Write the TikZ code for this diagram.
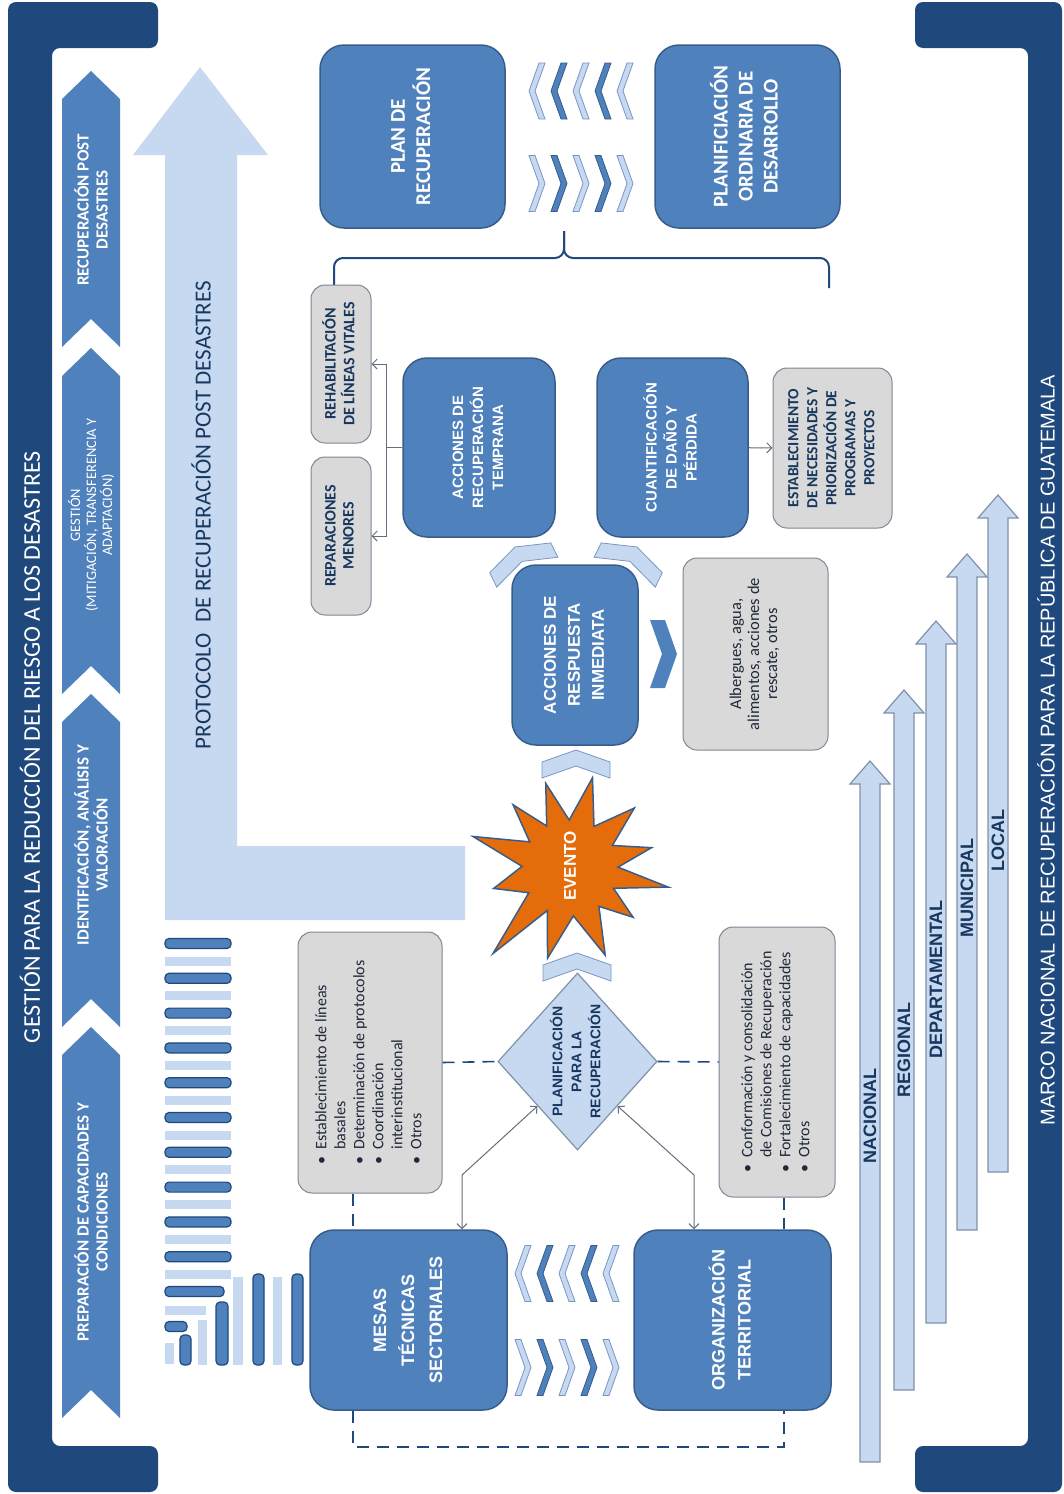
\documentclass[tikz,border=0pt]{standalone}
\usepackage{fontspec}
\setmainfont{Carlito}
\newfontfamily\arialfont{Liberation Sans}
\usepackage{graphicx}
\usetikzlibrary{shapes.geometric, arrows.meta}

\definecolor{navy}{RGB}{31,73,125}
\definecolor{boxblue}{RGB}{79,129,189}
\definecolor{boxedge}{RGB}{56,93,138}
\definecolor{lightblue}{RGB}{198,217,241}
\definecolor{chevedge}{RGB}{120,150,195}
\definecolor{boxgray}{RGB}{217,217,217}
\definecolor{grayedge}{RGB}{125,135,150}
\definecolor{textnavy}{RGB}{23,55,94}
\definecolor{textdark}{RGB}{32,40,58}
\definecolor{evorange}{RGB}{228,108,10}
\definecolor{linegray}{RGB}{100,110,125}
\definecolor{leveledge}{RGB}{128,145,170}

\newcommand{\vtext}[1]{\rotatebox{90}{\begin{tabular}{@{}c@{}}#1\end{tabular}}}
\newcommand{\vlist}[1]{\rotatebox{90}{\begin{tabular}{@{}l@{\hspace{7pt}}l@{}}#1\end{tabular}}}

\tikzset{
  bluebox/.style={draw=boxedge, fill=boxblue, line width=1.5pt, rounded corners=24pt, inner sep=0pt, text=white},
  graybox/.style={draw=grayedge, fill=boxgray, line width=1pt, rounded corners=14pt, inner sep=0pt, text=textnavy},
  conn/.style={draw=linegray, line width=1pt, -{Straight Barb[length=5pt,width=10pt]}},
  twoway/.style={draw=linegray, line width=1pt, {Straight Barb[length=5pt,width=10pt]}-{Straight Barb[length=5pt,width=10pt]}},
  dashlink/.style={draw=navy, line width=1.6pt, dash pattern=on 12pt off 8pt},
  chevlight/.style={fill=lightblue, draw=chevedge, line width=0.8pt},
  chevdark/.style={fill=boxblue, draw=boxedge, line width=0.8pt},
  stripedark/.style={fill=boxblue, draw=navy, line width=1.2pt, rounded corners=4pt},
  levelarrow/.style={fill=lightblue, draw=leveledge, line width=1.2pt},
  chevtext/.style={rotate=90, align=center, text=white, font=\bfseries\fontsize{17}{19}\selectfont},
  leveltext/.style={rotate=90, text=textnavy, font=\arialfont\bfseries\fontsize{18}{20}\selectfont},
  lchev/.pic={\path[pic actions] (0,0) -- (10,-28) -- (16,-28) -- (6,0) -- (16,28) -- (10,28) -- cycle;},
  rchev/.pic={\path[pic actions] (0,0) -- (-10,-28) -- (-16,-28) -- (-6,0) -- (-16,28) -- (-10,28) -- cycle;},
  wchev/.pic={\path[pic actions] (-34,12) -- (0,0) -- (34,12) -- (34,28) -- (0,16) -- (-34,28) -- cycle;},
}

\begin{document}
\begin{tikzpicture}[x=1pt, y=-1pt]
\useasboundingbox (0,0) rectangle (1064,1494);

% frames left and right
\fill[navy, rounded corners=8pt] (8,2) -- (158,2) -- (158,48) -- (52,48) -- (52,1446) -- (158,1446) -- (158,1492) -- (8,1492) -- cycle;
\fill[navy, rounded corners=8pt] (1062,2) -- (915,2) -- (915,48) -- (1028,48) -- (1028,1446) -- (915,1446) -- (915,1492) -- (1062,1492) -- cycle;
\node[rotate=90, text=white, font=\fontsize{24}{28}\selectfont] (gestitle) at (30,747) {GESTIÓN PARA LA REDUCCIÓN DEL RIESGO A LOS DESASTRES};
\node[rotate=90, text=white, font=\arialfont\fontsize{20}{24}\selectfont] (marcotitle) at (1046,750) {MARCO NACIONAL DE RECUPERACIÓN PARA LA REPÚBLICA DE GUATEMALA};

% phases
\foreach \yp/\yb in {71/347, 348/694, 694/1027, 1027/1418}
  \fill[boxblue] (62,\yb) -- (62,\yp+28) -- (91,\yp) -- (120,\yp+28) -- (120,\yb) -- (91,\yb-28) -- cycle;
\node[chevtext] (recup) at (91,210) {RECUPERACIÓN POST\\DESASTRES};
\node[chevtext, font=\fontsize{14.5}{16}\selectfont] (gestion) at (91,515) {GESTIÓN\\(MITIGACIÓN, TRANSFERENCIA Y\\ADAPTACIÓN)};
\node[chevtext] (ident) at (91,845) {IDENTIFICACIÓN, ANÁLISIS Y\\VALORACIÓN};
\node[chevtext] (prep) at (91,1222) {PREPARACIÓN DE CAPACIDADES Y\\CONDICIONES};

% protocol arrow
\fill[lightblue] (165,920) -- (165,155) -- (133,155) -- (200,67) -- (268,155) -- (237,155) -- (237,846) -- (465,846) -- (465,920) -- cycle;
\node[rotate=90, text=textnavy, font=\fontsize{23}{26}\selectfont] (protocolo) at (201,515) {PROTOCOLO \ DE RECUPERACIÓN POST DESASTRES};

% stripes
\foreach \k in {0,...,9} {
  \fill[lightblue] (165,956.5+34.8*\k) rectangle (231,965.5+34.8*\k);
  \draw[stripedark] (165,938.5+34.8*\k) rectangle (231,948.5+34.8*\k);
}
\draw[stripedark] (165,1286.5) rectangle (224,1296.5);
\draw[stripedark] (165,1321.5) rectangle (187,1331.5);
\fill[lightblue] (165,1305.5) rectangle (206,1314.5);
\fill[lightblue] (165,1343) rectangle (174,1364);
\foreach \xa/\xb/\yt in {198/207/1320, 233/243/1277, 273/282/1277}
  \fill[lightblue] (\xa,\yt) rectangle (\xb,1365);
\foreach \xa/\xb/\yt in {180/191/1335, 216/228/1302, 253/264/1274, 292/303/1274}
  \draw[stripedark] (\xa,\yt) rectangle (\xb,1365);

% plans
\node[bluebox, minimum width=185pt, minimum height=183pt, font=\bfseries\fontsize{21}{25}\selectfont] (plan) at (412.5,136.5) {\vtext{PLAN DE\\RECUPERACIÓN}};
\node[bluebox, minimum width=185pt, minimum height=183pt, font=\bfseries\fontsize{21}{25}\selectfont] (planord) at (747.5,136.5) {\vtext{PLANIFICIACIÓN\\ORDINARIA DE\\DESARROLLO}};
\foreach \xx/\st in {529/chevlight, 551/chevdark, 573/chevlight, 595/chevdark, 617/chevlight} {
  \pic[\st] at (\xx,91) {lchev};
  \pic[\st] at (\xx+16,183.5) {rchev};
}
\draw[navy, line width=2pt, rounded corners=9pt] (334,287) -- (334,258) -- (564,258) -- (564,231);
\draw[navy, line width=2pt, rounded corners=9pt] (564,231) -- (564,258) -- (829,258) -- (829,288);

% early recovery
\node[graybox, minimum width=60pt, minimum height=158pt, font=\bfseries\fontsize{16}{18}\selectfont] (rehab) at (341,364) {\vtext{REHABILITACIÓN\\DE LÍNEAS VITALES}};
\node[graybox, minimum width=60pt, minimum height=158pt, font=\bfseries\fontsize{16}{18}\selectfont] (repar) at (341,536) {\vtext{REPARACIONES\\MENORES}};
\node[bluebox, minimum width=152pt, minimum height=179pt, font=\arialfont\bfseries\fontsize{15}{20}\selectfont] (tempr) at (479,447.5) {\vtext{ACCIONES DE\\RECUPERACIÓN\\TEMPRANA}};
\node[bluebox, minimum width=151pt, minimum height=179pt, font=\arialfont\bfseries\fontsize{15}{20}\selectfont] (cuant) at (672.5,447.5) {\vtext{CUANTIFICACIÓN\\DE DAÑO Y\\PÉRDIDA}};
\node[graybox, minimum width=119pt, minimum height=160pt, font=\bfseries\fontsize{15.5}{19}\selectfont] (estab) at (832.5,448) {\vtext{ESTABLECIMIENTO\\DE NECESIDADES Y\\PRIORIZACIÓN DE\\PROGRAMAS Y\\PROYECTOS}};
\draw[conn] (tempr.west) -- ++(-16,0) |- (rehab.east);
\draw[conn] (tempr.west) -- ++(-16,0) |- (repar.east);
\draw[conn] (cuant) -- (estab);

% response
\pic[chevlight, rotate=26] at (515,547) {wchev};
\pic[chevlight, rotate=-26] at (637,547) {wchev};
\node[bluebox, minimum width=126pt, minimum height=180pt, font=\arialfont\bfseries\fontsize{17}{24}\selectfont] (resp) at (575,655) {\vtext{ACCIONES DE\\RESPUESTA\\INMEDIATA}};
\fill[boxblue] (650,620) -- (665,620) -- (677,654) -- (665,688) -- (650,688) -- (662,654) -- cycle;
\node[graybox, minimum width=145pt, minimum height=192pt, text=textdark, font=\fontsize{16.5}{18}\selectfont] (alber) at (755.5,654) {\vtext{Albergues, agua,\\alimentos, acciones de\\rescate, otros}};
\pic[chevlight] at (576,750) {wchev};

% event
\begin{scope}[shift={(570,868)}]
\draw[fill=evorange, draw=boxedge, line width=1.5pt, line join=miter] (-14:84) -- (-28:48) -- (-43:88) -- (-60:48) -- (-76:93) -- (-91:48) -- (-106:88) -- (-119:48) -- (-132:85) -- (-147:48) -- (-162:102) -- (-178:48) -- (-195:79) -- (-211:48) -- (-228:115) -- (-242:48) -- (-256:93) -- (-274:48) -- (-292:94) -- (-307:48) -- (-322:80) -- (-335:48) -- (-349:100) -- (-361:48) -- cycle;
\end{scope}
\node[rotate=90, text=white, font=\arialfont\bfseries\fontsize{17}{20}\selectfont] (evento) at (570,866) {EVENTO};
\pic[chevlight] at (577,953) {wchev};

% planning
\node[diamond, aspect=0.9, draw=leveledge, fill=lightblue, line width=1.2pt, minimum width=159pt, minimum height=177pt, inner sep=0pt, text=textnavy, font=\arialfont\bfseries\fontsize{14}{19}\selectfont] (planrec) at (577.5,1061.5) {\vtext{PLANIFICACIÓN\\PARA LA\\RECUPERACIÓN}};
\node[graybox, minimum width=144pt, minimum height=261pt, text=textdark, font=\fontsize{16}{19}\selectfont] (basegray) at (370,1062.5) {\vlist{\textbullet & Establecimiento de líneas\\ & basales\\ \textbullet & Determinación de protocolos\\ \textbullet & Coordinación\\ & interinstitucional\\ \textbullet & Otros}};
\node[graybox, minimum width=116pt, minimum height=270pt, text=textdark, font=\fontsize{16}{19}\selectfont] (orggray) at (777,1062) {\vlist{\textbullet & Conformación y consolidación\\ & de Comisiones de Recuperación\\ \textbullet & Fortalecimiento de capacidades\\ \textbullet & Otros}};
\draw[dashlink] (basegray.east) -- (planrec.west);
\draw[dashlink] (planrec.east) -- (orggray.west);

% tables and territory
\node[bluebox, minimum width=197pt, minimum height=180pt, font=\arialfont\bfseries\fontsize{18}{28}\selectfont] (mesas) at (408.5,1320) {\vtext{MESAS\\TÉCNICAS\\SECTORIALES}};
\node[bluebox, minimum width=197pt, minimum height=180pt, font=\arialfont\bfseries\fontsize{18}{26}\selectfont] (org) at (732.5,1320) {\vtext{ORGANIZACIÓN\\TERRITORIAL}};
\foreach \xx/\st in {515/chevlight, 537/chevdark, 559/chevlight, 581/chevdark, 603/chevlight} {
  \pic[\st] at (\xx,1273.5) {lchev};
  \pic[\st] at (\xx+16,1367.5) {rchev};
}
\coordinate (mk) at (462,1175);
\coordinate (ok) at (694,1175);
\draw[twoway] (mesas.north -| mk) -- (mk) -- (planrec.south west);
\draw[twoway] (org.north -| ok) -- (ok) -- (planrec.south east);
\coordinate (dl) at (353,1447);
\coordinate (dr) at (784,1447);
\draw[dashlink] (basegray.south -| dl) -- (mesas.north -| dl);
\draw[dashlink] (orggray.south -| dr) -- (org.north -| dr);
\draw[dashlink] (mesas.south -| dl) -- (dl) -- (dr) -- (org.south -| dr);

% levels
\foreach \cx/\tip/\bot in {870/761/1462, 904/690/1390, 936/621/1323, 967/554/1230, 998/495/1172}
  \draw[levelarrow] (\cx-10,\bot) -- (\cx-10,\tip+23) -- (\cx-20,\tip+23) -- (\cx,\tip) -- (\cx+20,\tip+23) -- (\cx+10,\tip+23) -- (\cx+10,\bot) -- cycle;
\node[leveltext] (nacional) at (870,1116) {NACIONAL};
\node[leveltext] (regional) at (904,1050) {REGIONAL};
\node[leveltext] (depto) at (936,979) {DEPARTAMENTAL};
\node[leveltext] (muni) at (967,888) {MUNICIPAL};
\node[leveltext] (local) at (998,840) {LOCAL};

\end{tikzpicture}
\end{document}
